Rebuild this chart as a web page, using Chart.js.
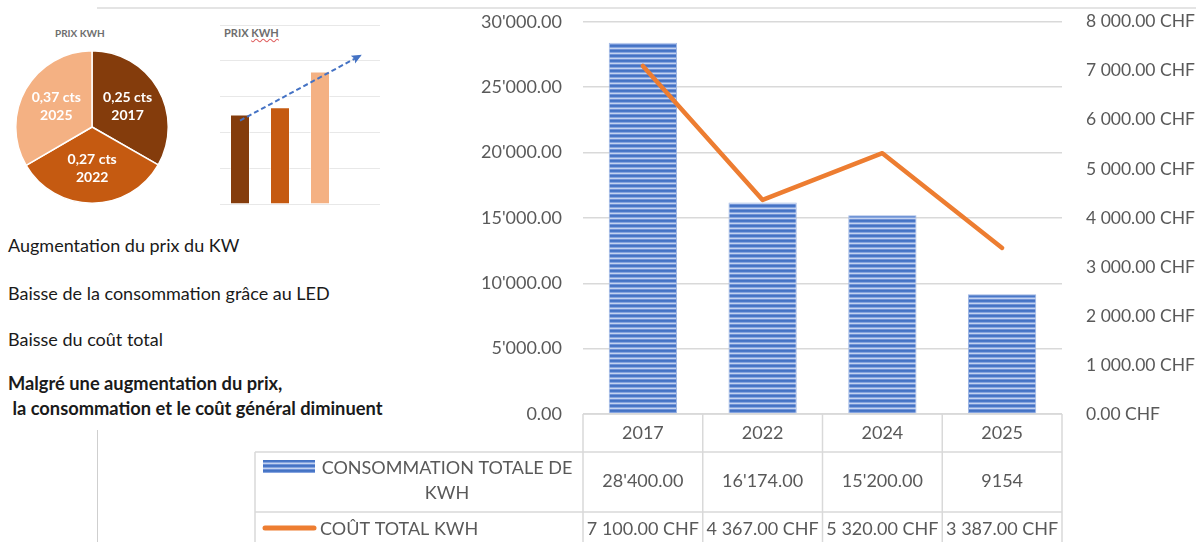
<!DOCTYPE html>
<html>
<head>
<meta charset="utf-8">
<script src="https://cdn.jsdelivr.net/npm/chart.js@4/dist/chart.umd.min.js"></script>
<style>
  body { margin: 0; width: 1196px; height: 542px; overflow: hidden; background: #fff; position: relative; font-family: Lato, "Open Sans", sans-serif; }
  canvas { position: absolute; }
  .txt { position: absolute; left: 8px; font-size: 18px; line-height: 22px; color: #1a1a1a; white-space: pre; }
  .bold { font-weight: bold; font-size: 18.3px; }
  .mini-title { position: absolute; font-size: 10px; font-weight: bold; color: #6e6e6e; }
  .rule-h { position: absolute; left: 97px; top: 7px; width: 1099px; height: 2px; background: #e4e4e4; }
  .rule-v { position: absolute; left: 97px; top: 430px; width: 1px; height: 112px; background: #cfcfcf; }
</style>
</head>
<body>
<div class="rule-h"></div>
<div class="rule-v"></div>

<div class="mini-title" style="left:55px; top:27px;">PRIX KWH</div>
<canvas id="pie" width="154" height="154" style="left:15px; top:50px;"></canvas>

<div class="mini-title" style="left:224px; top:26px; font-size:11px;">PRIX <span style="text-decoration: underline wavy #e06060;">KWH</span></div>
<canvas id="priceBar" width="160" height="185" style="left:220px; top:20px;"></canvas>

<div class="txt" style="top:234px;">Augmentation du prix du KW</div>
<div class="txt" style="top:282px;">Baisse de la consommation grâce au LED</div>
<div class="txt" style="top:328px;">Baisse du coût total</div>
<div class="txt bold" style="top:372px;">Malgré une augmentation du prix,</div>
<div class="txt bold" style="top:397px;"> la consommation et le coût général diminuent</div>

<canvas id="main" width="946" height="552" style="left:250px; top:-10px;"></canvas>

<script>
// ---- data ----
const years = ['2017', '2022', '2024', '2025'];
const consoValues = [28400, 16174, 15200, 9154];
const costValues = [7100, 4367, 5320, 3387];
const consoLabels = ["28'400.00", "16'174.00", "15'200.00", "9154"];

const priceYears = ['2017', '2022', '2025'];
const priceValues = [0.25, 0.27, 0.37];
// pie slices look like near-equal thirds (the year column was plotted)
const pieSlices = [2017, 2022, 2025];
const priceColors = ['#843C0C', '#C55A11', '#F4B183'];

const priceBarCats = ['2017', '2022', '2025', ''];
const trendValues = [0.233, null, null, 0.414];

const consoName = 'CONSOMMATION TOTALE DE KWH';
const costName = 'COÛT TOTAL KWH';

const textColor = '#595959';
const lineColor = '#d9d9d9';

// ---- helpers ----
function fmtConso(v) {
    const parts = Number(v).toFixed(2).split('.');
    return parts[0].replace(/\B(?=(\d{3})+(?!\d))/g, "'") + '.' + parts[1];
}

function fmtChf(v) {
    const parts = Number(v).toFixed(2).split('.');
    return parts[0].replace(/\B(?=(\d{3})+(?!\d))/g, ' ') + '.' + parts[1] + ' CHF';
}

function fmtPrice(v) {
    return v.toFixed(2).replace('.', ',') + ' cts';
}

// horizontal blue stripes used for the bars and the legend swatch
function makeStripes(ctx) {
    const c = document.createElement('canvas');
    c.width = 5; c.height = 5;
    const g = c.getContext('2d');
    const rows = ['#4472C4', '#4A78C8', '#86A4DF', '#C3D3F0', '#7092D6'];
    rows.forEach((col, i) => { g.fillStyle = col; g.fillRect(0, i, 5, 1); });
    return ctx.createPattern(c, 'repeat');
}

// ---- pie ----
const pieLabels = {
    id: 'pieLabels',
    afterDatasetsDraw(chart) {
        const ctx = chart.ctx;
        const meta = chart.getDatasetMeta(0);
        ctx.save();
        ctx.fillStyle = '#fff';
        ctx.font = 'bold 14px Lato';
        ctx.textAlign = 'center';
        ctx.textBaseline = 'middle';
        meta.data.forEach((arc, i) => {
            const mid = (arc.startAngle + arc.endAngle) / 2;
            const r = arc.outerRadius * 0.54;
            const x = arc.x + Math.cos(mid) * r;
            const y = arc.y + Math.sin(mid) * r;
            ctx.fillText(fmtPrice(priceValues[i]), x, y - 9);
            ctx.fillText(priceYears[i], x, y + 9);
        });
        ctx.restore();
    }
};

new Chart(document.getElementById('pie'), {
    type: 'pie',
    data: {
        labels: priceYears,
        datasets: [{
            data: pieSlices,
            backgroundColor: priceColors,
            borderColor: '#fff',
            borderWidth: 1.5
        }]
    },
    options: {
        responsive: false,
        animation: false,
        plugins: { legend: { display: false }, tooltip: { enabled: false } }
    },
    plugins: [pieLabels]
});

// ---- small price bar chart ----
const arrowHead = {
    id: 'arrowHead',
    afterDatasetsDraw(chart) {
        const pts = chart.getDatasetMeta(0).data.filter(p => !p.skip);
        if (pts.length < 2) return;
        const a = pts[0], b = pts[pts.length - 1];
        const ang = Math.atan2(b.y - a.y, b.x - a.x);
        const ctx = chart.ctx;
        ctx.save();
        ctx.fillStyle = '#4472C4';
        ctx.translate(b.x, b.y);
        ctx.rotate(ang);
        ctx.beginPath();
        ctx.moveTo(2, 0);
        ctx.lineTo(-8, -4.5);
        ctx.lineTo(-6, 0);
        ctx.lineTo(-8, 4.5);
        ctx.closePath();
        ctx.fill();
        ctx.restore();
    }
};

new Chart(document.getElementById('priceBar'), {
    type: 'bar',
    data: {
        labels: priceBarCats,
        datasets: [
            {
                type: 'line',
                data: trendValues,
                borderColor: '#4472C4',
                borderWidth: 2,
                borderDash: [5, 3],
                pointRadius: 0,
                spanGaps: true,
                order: 0
            },
            {
                data: priceValues,
                backgroundColor: priceColors,
                borderColor: 'rgba(255,255,255,0.5)',
                borderWidth: 1,
                barPercentage: 0.5,
                categoryPercentage: 1,
                order: 1
            }
        ]
    },
    options: {
        responsive: false,
        animation: false,
        layout: { padding: { top: 5, bottom: 1, left: 0, right: 0 } },
        plugins: { legend: { display: false }, tooltip: { enabled: false } },
        scales: {
            x: { display: false },
            y: {
                min: 0, max: 0.5,
                ticks: { display: false, stepSize: 0.1 },
                grid: { color: '#e8e8e8', drawTicks: false },
                border: { display: false },
                afterFit(s) { s.width = 0; }
            }
        }
    },
    plugins: [arrowHead]
});

// ---- main chart with data table ----
const dataTable = {
    id: 'dataTable',
    afterDraw(chart) {
        const { ctx, chartArea: a, scales: { x } } = chart;
        const n = chart.data.labels.length;
        const colW = (a.right - a.left) / n;
        const top = a.bottom;
        const r1 = top + 38;
        const r2 = r1 + 60;
        const bottom = chart.height;
        const cellLeft = 5;
        const labelMid = 197;

        ctx.save();
        ctx.strokeStyle = lineColor;
        ctx.lineWidth = 1.5;
        ctx.beginPath();
        ctx.moveTo(a.left, top); ctx.lineTo(a.right, top);
        ctx.moveTo(cellLeft, r1); ctx.lineTo(a.right, r1);
        ctx.moveTo(cellLeft, r2); ctx.lineTo(a.right, r2);
        ctx.moveTo(cellLeft, r1); ctx.lineTo(cellLeft, bottom);
        for (let i = 0; i <= n; i++) {
            const xx = a.left + i * colW;
            ctx.moveTo(xx, top); ctx.lineTo(xx, bottom);
        }
        ctx.stroke();

        ctx.fillStyle = textColor;
        ctx.font = '18px Lato';
        ctx.textAlign = 'center';
        ctx.textBaseline = 'middle';
        chart.data.labels.forEach((lab, i) => {
            const cx = x.getPixelForValue(i);
            ctx.fillText(lab, cx, top + 19);
            ctx.fillText(consoLabels[i], cx, r1 + 29);
            ctx.fillText(fmtChf(costValues[i]), cx, r2 + 17);
        });

        // legend keys
        ctx.fillStyle = makeStripes(ctx);
        ctx.fillRect(13, r1 + 8, 52, 13);
        ctx.strokeStyle = '#ED7D31';
        ctx.lineWidth = 5;
        ctx.lineCap = 'round';
        ctx.beginPath();
        ctx.moveTo(15, r2 + 16); ctx.lineTo(64, r2 + 16);
        ctx.stroke();

        ctx.fillStyle = textColor;
        const words = consoName.split(' ');
        ctx.fillText(words.slice(0, 3).join(' '), labelMid, r1 + 16);
        ctx.fillText(words.slice(3).join(' '), labelMid, r1 + 41);
        ctx.textAlign = 'left';
        ctx.fillText(costName, 70, r2 + 17);
        ctx.restore();
    }
};

const mainCanvas = document.getElementById('main');
const stripes = makeStripes(mainCanvas.getContext('2d'));

new Chart(mainCanvas, {
    data: {
        labels: years,
        datasets: [
            {
                type: 'line',
                label: costName,
                data: costValues,
                yAxisID: 'y1',
                borderColor: '#ED7D31',
                borderWidth: 4.5,
                borderCapStyle: 'round',
                borderJoinStyle: 'round',
                pointRadius: 0,
                order: 0
            },
            {
                type: 'bar',
                label: consoName,
                data: consoValues,
                yAxisID: 'y',
                backgroundColor: stripes,
                borderColor: '#9fb7e4',
                borderWidth: 1,
                barPercentage: 0.57,
                categoryPercentage: 1,
                order: 1
            }
        ]
    },
    options: {
        responsive: false,
        animation: false,
        layout: { padding: { top: 7, left: 0, right: 0, bottom: 0 } },
        plugins: { legend: { display: false }, tooltip: { enabled: false } },
        scales: {
            x: {
                ticks: { display: false },
                grid: { display: false },
                border: { display: false },
                afterFit(s) { s.height = 128; }
            },
            y: {
                position: 'left',
                min: 0, max: 30000,
                ticks: {
                    stepSize: 5000, padding: 21, color: textColor,
                    font: { family: 'Lato', size: 18 },
                    callback: v => fmtConso(v)
                },
                grid: { color: lineColor, drawTicks: false, lineWidth: 1.5 },
                border: { display: false },
                afterFit(s) { s.width = 333; }
            },
            y1: {
                position: 'right',
                min: 0, max: 8000,
                ticks: {
                    stepSize: 1000, padding: 16, color: textColor,
                    font: { family: 'Lato', size: 17.5 },
                    callback: v => fmtChf(v)
                },
                grid: { display: false },
                border: { display: false },
                afterFit(s) { s.width = 134; }
            }
        }
    },
    plugins: [dataTable]
});
</script>
</body>
</html>
